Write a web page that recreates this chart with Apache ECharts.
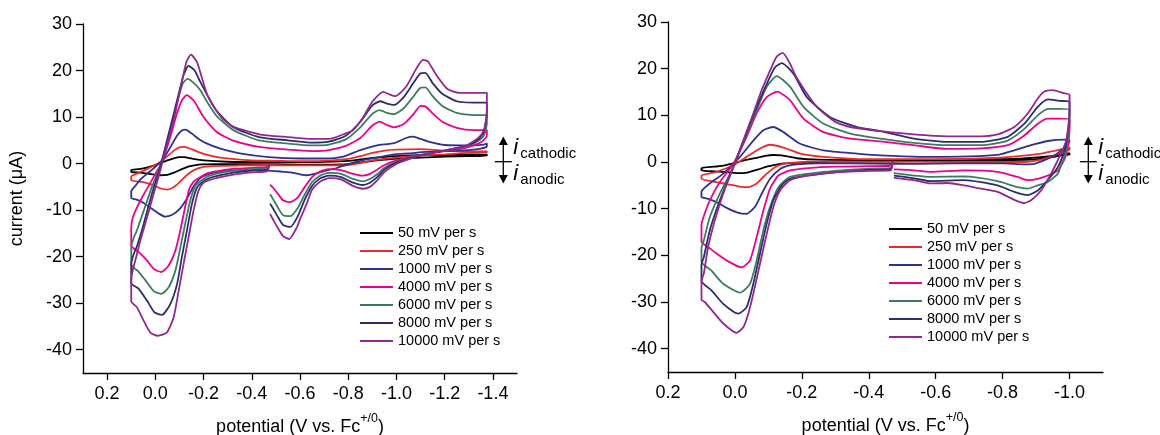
<!DOCTYPE html>
<html>
<head>
<meta charset="utf-8">
<script src="https://cdn.jsdelivr.net/npm/echarts@6/dist/echarts.min.js"></script>
<style>
  html, body { margin: 0; padding: 0; background: #fff; }
  #chart { width: 1160px; height: 435px; }
</style>
</head>
<body>
<div id="chart"></div>
<script>
// Scan-rate labels shared by both voltammogram panels
const scanRates = ['50 mV per s', '250 mV per s', '1000 mV per s', '4000 mV per s',
                   '6000 mV per s', '8000 mV per s', '10000 mV per s'];

// Tick values
const xTicksWide = [0.2, 0.0, -0.2, -0.4, -0.6, -0.8, -1.0, -1.2, -1.4];
const xTicksNarrow = [0.2, 0.0, -0.2, -0.4, -0.6, -0.8, -1.0];
const yTicks = [-40, -30, -20, -10, 0, 10, 20, 30];

// ---- Wide window (0.1 V to -1.375 V), [potential V, current uA], in scan order ----
const wide50 = [
  [-0.47,-0.1],[-0.35,-0.1],[-0.25,-0.1],[-0.18,-0.2],[-0.14,-0.6],[-0.11,-1.2],[-0.08,-1.9],[-0.05,-2.4],
  [-0.02,-2.5],[0.01,-2.3],[0.04,-2.1],[0.07,-1.9],[0.1,-1.8],
  [0.1,-1.4],[0.07,-1.2],[0.04,-0.9],[0.01,-0.5],[-0.02,0.1],[-0.05,0.7],[-0.08,1.2],[-0.1,1.4],[-0.12,1.4],
  [-0.15,1.1],[-0.2,0.7],[-0.3,0.4],[-0.45,0.3],[-0.6,0.3],[-0.7,0.4],[-0.8,0.6],[-0.85,0.9],[-0.9,1.2],
  [-1.0,1.6],[-1.1,1.8],[-1.2,1.8],[-1.3,1.9],[-1.375,1.9],
  [-1.375,1.7],[-1.3,1.6],[-1.2,1.5],[-1.1,1.3],[-1.0,1.1],[-0.9,0.6],[-0.85,0.2],[-0.8,-0.1],[-0.7,-0.2],
  [-0.6,-0.2],[-0.47,-0.1]
];
const wide250 = [
  [-0.47,-0.3],[-0.35,-0.4],[-0.25,-0.5],[-0.2,-0.7],[-0.16,-1.4],[-0.13,-2.5],[-0.1,-4.0],[-0.075,-5.1],
  [-0.05,-5.6],[-0.02,-5.3],[0.01,-4.6],[0.05,-4.0],[0.1,-3.6],
  [0.1,-2.8],[0.07,-2.0],[0.04,-1.3],[0.01,-0.5],[-0.02,0.3],[-0.05,1.6],[-0.08,2.9],[-0.1,3.5],[-0.12,3.6],
  [-0.15,3.1],[-0.2,2.1],[-0.27,1.3],[-0.4,0.7],[-0.5,0.6],[-0.6,0.5],[-0.7,0.6],[-0.8,1.0],[-0.85,1.6],
  [-0.9,2.3],[-0.95,2.8],[-1.0,3.0],[-1.1,3.1],[-1.2,2.8],[-1.3,2.6],[-1.375,2.6],
  [-1.375,2.4],[-1.3,2.3],[-1.2,2.0],[-1.1,1.7],[-1.0,1.3],[-0.9,0.7],[-0.85,0.1],[-0.8,-0.3],[-0.7,-0.4],
  [-0.6,-0.4],[-0.47,-0.3]
];
const wide1000 = [
  [-0.47,-1.5],[-0.4,-1.4],[-0.3,-1.5],[-0.24,-2.0],[-0.19,-3.0],[-0.16,-4.8],[-0.13,-7.6],[-0.1,-9.8],
  [-0.07,-11.0],[-0.04,-11.4],[-0.01,-10.6],[0.02,-9.5],[0.05,-8.4],[0.08,-7.7],[0.1,-7.4],
  [0.1,-6.0],[0.08,-4.6],[0.06,-3.3],[0.03,-2.0],[0.0,-0.7],[-0.03,0.8],[-0.06,3.3],[-0.09,6.0],[-0.11,7.1],
  [-0.125,7.3],[-0.15,6.5],[-0.18,5.3],[-0.21,4.4],[-0.27,3.2],[-0.35,2.2],[-0.47,1.4],[-0.6,1.1],[-0.7,1.1],
  [-0.78,1.5],[-0.85,2.9],[-0.92,3.9],[-0.99,4.4],[-1.04,5.5],[-1.07,5.8],[-1.1,5.3],[-1.14,4.6],[-1.2,4.0],
  [-1.3,3.9],[-1.36,4.1],[-1.375,4.3],
  [-1.375,3.7],[-1.35,3.2],[-1.3,2.9],[-1.2,2.7],[-1.12,2.5],[-1.05,2.2],[-0.99,2.0],[-0.93,1.4],[-0.85,0.6],
  [-0.8,-0.1],[-0.75,-1.0],[-0.7,-1.6],[-0.66,-2.2],[-0.63,-2.5],[-0.6,-2.3],[-0.56,-1.9],[-0.52,-1.7],[-0.47,-1.5]
];
const wide4000 = [
  [-0.472,-0.1],[-0.465,-0.7],[-0.4,-0.9],[-0.33,-1.1],[-0.27,-1.5],[-0.22,-2.0],[-0.19,-2.8],[-0.16,-3.8],
  [-0.14,-5.6],[-0.125,-9.0],[-0.105,-14.0],[-0.083,-18.7],[-0.055,-21.9],[-0.025,-23.3],[0.005,-22.7],
  [0.035,-20.8],[0.065,-19.2],[0.1,-17.6],
  [0.1,-14.0],[0.093,-11.5],[0.075,-9.3],[0.05,-6.8],[0.03,-5.0],[0.0,-2.2],[-0.028,0.3],[-0.06,5.4],
  [-0.09,10.8],[-0.11,13.6],[-0.13,14.7],[-0.16,13.5],[-0.2,10.0],[-0.255,6.8],[-0.32,5.0],[-0.43,3.6],
  [-0.55,3.0],[-0.65,2.7],[-0.72,2.9],[-0.79,3.8],[-0.85,5.5],[-0.9,8.2],[-0.93,9.0],[-0.96,8.3],[-0.99,7.8],
  [-1.03,8.5],[-1.07,10.6],[-1.1,12.4],[-1.12,12.3],[-1.15,10.8],[-1.19,9.0],[-1.25,7.7],[-1.32,7.2],[-1.375,7.2],
  [-1.375,6.2],[-1.37,5.5],[-1.35,4.6],[-1.32,3.9],[-1.28,3.3],[-1.2,2.7],[-1.14,2.2],[-1.07,1.6],[-1.0,0.7],
  [-0.95,-0.3],[-0.92,-1.3],[-0.89,-2.2],[-0.86,-2.6],[-0.82,-2.2],[-0.77,-1.4],[-0.72,-1.2],[-0.68,-1.8],
  [-0.65,-2.9],[-0.62,-5.0],[-0.59,-7.3],[-0.56,-8.3],[-0.53,-7.9],[-0.51,-6.6],[-0.49,-5.3],[-0.476,-4.5]
];
const wide6000 = [
  [-0.472,-0.2],[-0.465,-1.0],[-0.4,-1.2],[-0.33,-1.5],[-0.27,-2.0],[-0.22,-2.7],[-0.19,-3.7],[-0.166,-4.8],
  [-0.145,-7.9],[-0.124,-12.9],[-0.104,-18.0],[-0.083,-23.0],[-0.055,-26.6],[-0.025,-28.0],[0.007,-27.4],
  [0.041,-25.1],[0.07,-23.2],[0.1,-21.7],
  [0.1,-18.0],[0.09,-16.0],[0.076,-14.3],[0.048,-10.1],[0.014,-5.0],[-0.021,-0.4],[-0.048,4.3],[-0.076,10.0],
  [-0.097,14.4],[-0.115,17.3],[-0.134,18.2],[-0.16,17.3],[-0.186,15.8],[-0.22,12.8],[-0.255,10.2],[-0.324,7.2],
  [-0.43,5.0],[-0.55,4.3],[-0.65,3.9],[-0.72,4.1],[-0.79,5.2],[-0.85,7.8],[-0.9,10.7],[-0.93,11.5],[-0.96,10.9],
  [-0.99,10.6],[-1.03,11.9],[-1.07,14.4],[-1.1,16.3],[-1.12,16.4],[-1.15,14.5],[-1.19,12.4],[-1.25,10.9],
  [-1.32,10.4],[-1.375,10.4],
  [-1.375,8.7],[-1.37,7.2],[-1.36,5.8],[-1.33,4.6],[-1.28,3.6],[-1.2,2.8],[-1.14,2.2],[-1.07,1.5],[-1.0,0.4],
  [-0.95,-0.9],[-0.92,-2.3],[-0.89,-3.3],[-0.86,-3.8],[-0.82,-3.3],[-0.77,-2.2],[-0.72,-2.0],[-0.68,-2.7],
  [-0.65,-4.0],[-0.62,-6.6],[-0.59,-9.6],[-0.56,-11.3],[-0.53,-11.1],[-0.51,-9.6],[-0.49,-7.8],[-0.476,-6.6]
];
const wide8000 = [
  [-0.472,-0.3],[-0.465,-1.3],[-0.4,-1.5],[-0.33,-1.9],[-0.27,-2.5],[-0.22,-3.2],[-0.19,-4.2],[-0.172,-5.2],
  [-0.152,-8.6],[-0.131,-14.4],[-0.11,-20.1],[-0.09,-25.9],[-0.062,-30.2],[-0.028,-32.5],[0.003,-32.0],
  [0.034,-29.5],[0.069,-26.9],[0.1,-25.7],
  [0.1,-21.6],[0.09,-19.5],[0.076,-17.7],[0.048,-12.9],[0.014,-6.5],[-0.021,-0.7],[-0.048,4.9],[-0.076,10.6],
  [-0.097,15.0],[-0.117,19.0],[-0.138,21.0],[-0.163,20.0],[-0.186,17.6],[-0.22,14.3],[-0.255,11.3],[-0.324,7.8],
  [-0.43,5.7],[-0.55,5.0],[-0.65,4.5],[-0.72,4.7],[-0.79,6.0],[-0.85,9.0],[-0.9,12.5],[-0.932,13.4],[-0.96,12.9],
  [-0.99,12.6],[-1.03,14.3],[-1.07,17.3],[-1.1,19.4],[-1.12,19.5],[-1.15,17.3],[-1.19,15.0],[-1.25,13.4],
  [-1.32,13.1],[-1.375,13.1],
  [-1.375,10.5],[-1.37,8.8],[-1.36,6.5],[-1.33,4.8],[-1.28,3.7],[-1.2,2.8],[-1.14,2.2],[-1.07,1.4],[-1.0,0.2],
  [-0.95,-1.3],[-0.92,-2.9],[-0.89,-4.1],[-0.86,-4.6],[-0.82,-4.1],[-0.77,-2.9],[-0.72,-2.6],[-0.68,-3.3],
  [-0.65,-4.8],[-0.62,-7.7],[-0.59,-11.4],[-0.56,-13.6],[-0.53,-13.2],[-0.51,-11.6],[-0.49,-9.8],[-0.476,-8.6]
];
const wide10000 = [
  [-0.472,-0.4],[-0.465,-1.6],[-0.4,-1.9],[-0.33,-2.3],[-0.27,-2.9],[-0.22,-3.6],[-0.2,-4.1],[-0.179,-5.8],
  [-0.159,-10.0],[-0.138,-15.8],[-0.117,-21.6],[-0.097,-27.3],[-0.076,-33.0],[-0.048,-36.3],[-0.01,-37.0],
  [0.021,-36.3],[0.048,-33.8],[0.076,-30.9],[0.1,-29.6],
  [0.1,-25.0],[0.092,-22.5],[0.083,-20.8],[0.062,-16.5],[0.034,-11.5],[0.007,-6.5],[-0.021,-1.4],[-0.048,4.0],
  [-0.076,9.3],[-0.097,14.4],[-0.115,18.8],[-0.13,22.0],[-0.148,23.4],[-0.172,21.9],[-0.19,19.0],[-0.215,14.8],
  [-0.242,12.2],[-0.28,9.6],[-0.324,7.9],[-0.43,6.3],[-0.55,5.7],[-0.65,5.3],[-0.72,5.3],[-0.79,6.5],[-0.82,7.2],
  [-0.86,9.8],[-0.9,13.3],[-0.945,15.4],[-0.97,14.9],[-0.995,14.5],[-1.04,16.5],[-1.08,20.2],[-1.11,22.3],
  [-1.13,22.0],[-1.166,19.0],[-1.21,16.1],[-1.26,15.2],[-1.32,15.2],[-1.375,15.2],
  [-1.375,12.0],[-1.372,9.5],[-1.365,7.6],[-1.35,6.1],[-1.32,4.8],[-1.28,3.7],[-1.2,2.8],[-1.14,2.2],[-1.07,1.3],
  [-1.0,-0.1],[-0.95,-1.8],[-0.92,-3.6],[-0.89,-5.0],[-0.86,-5.4],[-0.82,-4.8],[-0.77,-3.4],[-0.72,-3.1],
  [-0.68,-4.0],[-0.65,-5.6],[-0.628,-8.6],[-0.6,-12.0],[-0.587,-13.7],[-0.555,-16.2],[-0.53,-15.6],
  [-0.518,-14.7],[-0.49,-12.2],[-0.476,-10.8]
];

// ---- Narrow window (0.1 V to -1.0 V) ----
const narrow50 = [
  [-0.47,0.1],[-0.35,0.1],[-0.25,0.0],[-0.18,-0.2],[-0.145,-0.3],[-0.12,-0.6],[-0.095,-1.0],[-0.07,-1.6],
  [-0.04,-2.2],[-0.015,-2.4],[0.02,-2.2],[0.06,-2.0],[0.1,-1.8],
  [0.1,-1.3],[0.06,-1.0],[0.035,-0.8],[0.0,-0.2],[-0.03,0.4],[-0.065,0.9],[-0.09,1.3],[-0.115,1.5],[-0.14,1.4],
  [-0.185,0.8],[-0.25,0.5],[-0.4,0.4],[-0.5,0.4],[-0.7,0.5],[-0.84,0.7],[-0.92,1.1],[-0.96,1.4],[-1.0,1.9],
  [-1.0,1.6],[-0.975,1.4],[-0.935,0.9],[-0.885,0.5],[-0.8,0.4],[-0.6,0.3],[-0.47,0.1]
];
const narrow250 = [
  [-0.47,0.1],[-0.35,0.1],[-0.25,0.1],[-0.165,-0.2],[-0.125,-0.9],[-0.095,-2.5],[-0.065,-4.6],[-0.04,-5.4],
  [-0.01,-5.2],[0.02,-4.8],[0.055,-4.3],[0.1,-3.6],
  [0.1,-2.9],[0.055,-2.1],[0.005,-0.7],[-0.035,1.1],[-0.075,2.9],[-0.105,3.7],[-0.145,3.1],[-0.195,1.8],
  [-0.265,1.1],[-0.4,0.6],[-0.6,0.6],[-0.75,0.8],[-0.84,1.2],[-0.915,1.8],[-0.955,2.4],[-1.0,3.1],
  [-1.0,2.7],[-0.985,2.4],[-0.955,1.4],[-0.915,0.5],[-0.865,0.0],[-0.7,0.0],[-0.47,0.1]
];
const narrow1000 = [
  [-0.47,-0.4],[-0.35,-0.3],[-0.25,-0.3],[-0.185,-0.5],[-0.16,-0.8],[-0.135,-1.5],[-0.105,-3.6],[-0.08,-6.8],
  [-0.06,-9.6],[-0.035,-11.1],[-0.01,-10.9],[0.02,-10.0],[0.055,-8.6],[0.08,-7.9],[0.1,-7.5],
  [0.1,-6.4],[0.075,-4.6],[0.035,-2.5],[-0.015,1.1],[-0.055,4.6],[-0.085,6.8],[-0.115,7.5],[-0.145,6.4],
  [-0.195,3.9],[-0.265,2.5],[-0.365,1.8],[-0.435,1.4],[-0.55,1.1],[-0.7,1.2],[-0.79,1.6],[-0.835,2.5],
  [-0.885,3.6],[-0.935,4.5],[-0.985,4.8],[-1.0,4.6],
  [-0.995,3.6],[-0.975,2.5],[-0.955,1.4],[-0.925,0.4],[-0.895,-0.4],[-0.865,-0.5],[-0.8,-0.3],[-0.65,-0.3],
  [-0.55,-0.4],[-0.47,-0.4]
];
const narrow4000 = [
  [-0.472,0.2],[-0.465,-0.8],[-0.4,-0.9],[-0.3,-1.0],[-0.22,-1.3],[-0.165,-1.8],[-0.13,-2.9],[-0.105,-5.7],
  [-0.085,-10.4],[-0.065,-16.1],[-0.045,-21.1],[-0.02,-22.6],[0.02,-21.3],[0.055,-19.6],[0.08,-18.2],[0.1,-17.1],
  [0.1,-13.5],[0.09,-11.0],[0.075,-8.2],[0.045,-4.3],[0.005,-0.4],[-0.035,5.4],[-0.065,10.4],[-0.095,13.9],
  [-0.127,15.1],[-0.165,13.2],[-0.205,9.3],[-0.265,6.4],[-0.345,5.0],[-0.435,4.4],[-0.535,3.6],[-0.635,2.8],
  [-0.735,2.9],[-0.815,3.6],[-0.865,5.7],[-0.905,8.2],[-0.935,9.3],[-0.97,9.3],[-1.0,9.1],
  [-1.0,7.0],[-0.998,5.0],[-0.993,2.5],[-0.985,0.6],[-0.965,-1.8],[-0.935,-2.9],[-0.905,-3.6],[-0.875,-3.9],
  [-0.845,-3.2],[-0.785,-2.1],[-0.685,-1.8],[-0.585,-2.1],[-0.535,-1.8],[-0.475,-1.6]
];
const narrow6000 = [
  [-0.472,0.1],[-0.465,-1.3],[-0.4,-1.4],[-0.265,-2.1],[-0.165,-3.2],[-0.13,-5.4],[-0.105,-9.6],[-0.085,-14.6],
  [-0.065,-21.1],[-0.045,-26.1],[-0.015,-28.0],[0.035,-26.1],[0.07,-23.3],[0.1,-21.4],
  [0.1,-18.5],[0.093,-16.8],[0.075,-11.8],[0.045,-6.8],[0.005,-1.1],[-0.03,5.0],[-0.065,11.1],[-0.095,16.1],
  [-0.125,18.4],[-0.165,16.1],[-0.205,11.8],[-0.265,8.2],[-0.345,6.1],[-0.435,5.0],[-0.535,4.1],[-0.635,3.6],
  [-0.735,3.6],[-0.815,4.6],[-0.865,7.1],[-0.905,10.0],[-0.935,11.4],[-0.97,11.4],[-1.0,11.2],
  [-1.0,9.0],[-0.998,6.5],[-0.993,4.0],[-0.988,1.8],[-0.975,-0.6],[-0.965,-2.5],[-0.935,-4.3],[-0.905,-5.0],
  [-0.875,-5.7],[-0.845,-5.4],[-0.785,-4.1],[-0.685,-3.1],[-0.585,-3.2],[-0.535,-2.9],[-0.475,-2.4]
];
const narrow8000 = [
  [-0.472,0.2],[-0.465,-1.6],[-0.4,-1.7],[-0.265,-2.5],[-0.165,-3.6],[-0.14,-5.0],[-0.115,-8.2],[-0.095,-13.2],
  [-0.075,-19.6],[-0.055,-26.1],[-0.035,-31.1],[-0.01,-32.5],[0.035,-30.4],[0.07,-27.5],[0.1,-25.5],
  [0.1,-22.0],[0.093,-20.4],[0.075,-14.6],[0.045,-8.2],[0.005,-1.1],[-0.03,5.4],[-0.065,11.8],[-0.1,17.5],
  [-0.12,20.3],[-0.14,21.2],[-0.175,18.9],[-0.215,13.9],[-0.285,9.6],[-0.365,7.5],[-0.435,6.6],[-0.535,5.0],
  [-0.635,4.3],[-0.735,4.3],[-0.815,5.4],[-0.865,8.2],[-0.905,11.8],[-0.935,13.4],[-0.97,13.1],[-1.0,12.9],
  [-1.0,11.0],[-0.998,8.0],[-0.993,5.5],[-0.988,3.2],[-0.978,1.0],[-0.965,-1.1],[-0.935,-3.9],[-0.905,-6.1],
  [-0.875,-7.1],[-0.835,-6.4],[-0.785,-5.0],[-0.685,-3.9],[-0.585,-4.1],[-0.535,-3.5],[-0.475,-2.9]
];
const narrow10000 = [
  [-0.472,0.3],[-0.465,-1.8],[-0.4,-1.9],[-0.315,-2.1],[-0.215,-2.9],[-0.165,-3.9],[-0.135,-6.1],[-0.115,-9.6],
  [-0.095,-15.4],[-0.075,-21.8],[-0.055,-28.2],[-0.04,-32.5],[-0.025,-35.4],[-0.005,-36.6],[0.035,-34.6],
  [0.065,-32.1],[0.09,-30.0],[0.1,-29.5],
  [0.1,-25.5],[0.093,-23.9],[0.08,-18.2],[0.06,-12.5],[0.035,-6.8],[0.005,-1.1],[-0.025,4.6],[-0.055,10.4],
  [-0.08,15.4],[-0.105,19.6],[-0.125,22.6],[-0.143,23.4],[-0.165,21.0],[-0.185,18.0],[-0.245,11.8],[-0.3,8.6],
  [-0.345,7.5],[-0.435,6.6],[-0.535,5.9],[-0.635,5.5],[-0.735,5.5],[-0.785,5.9],[-0.835,7.5],[-0.875,10.4],
  [-0.905,13.6],[-0.925,15.1],[-0.95,15.4],[-0.98,14.8],[-1.0,14.4],
  [-1.0,11.0],[-0.996,7.5],[-0.99,4.6],[-0.978,2.3],[-0.965,0.4],[-0.945,-2.5],[-0.915,-6.1],[-0.885,-8.2],
  [-0.865,-8.8],[-0.835,-8.1],[-0.785,-6.4],[-0.735,-5.7],[-0.685,-5.0],[-0.635,-4.5],[-0.585,-4.6],
  [-0.535,-3.9],[-0.475,-3.4]
];

const wideCurves = [wide50, wide250, wide1000, wide4000, wide6000, wide8000, wide10000];
const narrowCurves = [narrow50, narrow250, narrow1000, narrow4000, narrow6000, narrow8000, narrow10000];

// Trace colours, one per scan rate
const traceColors = ['#000000', '#ee2a2a', '#2e3192', '#ec008c', '#3e7b5c', '#2b2e6b', '#92278f'];

const FONT = '"Liberation Sans", Arial, Helvetica, sans-serif';

function xAxisFor(gridIndex, min, max, ticks) {
  return {
    gridIndex, type: 'value', min, max, inverse: true,
    axisLine: { show: true, onZero: false, lineStyle: { color: '#000', width: 1.3 } },
    axisTick: { show: true, length: 7, inside: false, customValues: ticks, lineStyle: { color: '#000', width: 1.3 } },
    axisLabel: { customValues: ticks, margin: 12, fontSize: 18, color: '#000', fontFamily: FONT,
                 formatter: v => (Math.abs(v) < 1e-9 ? 0 : v).toFixed(1) },
    splitLine: { show: false },
    name: '{t|potential (V vs. Fc}{s|+/0}{t|)}',
    nameLocation: 'middle', nameGap: 39,
    nameTextStyle: {
      fontFamily: FONT, color: '#000',
      rich: {
        t: { fontSize: 18, lineHeight: 24, verticalAlign: 'bottom', fontFamily: FONT, color: '#000' },
        s: { fontSize: 12.5, lineHeight: 13, verticalAlign: 'top', fontFamily: FONT, color: '#000' }
      }
    }
  };
}

function yAxisFor(gridIndex, withName) {
  return {
    gridIndex, type: 'value', min: -45, max: 30,
    axisLine: { show: true, onZero: false, lineStyle: { color: '#000', width: 1.3 } },
    axisTick: { show: true, length: 7, customValues: yTicks, lineStyle: { color: '#000', width: 1.3 } },
    axisLabel: { customValues: yTicks, margin: 11, fontSize: 18, color: '#000', fontFamily: FONT },
    splitLine: { show: false },
    name: withName ? 'current (\u03bcA)' : '',
    nameLocation: 'middle', nameGap: 57, nameRotate: 90,
    nameTextStyle: { fontSize: 18, color: '#000', fontFamily: FONT }
  };
}

const series = [];
wideCurves.forEach((d, k) => series.push({
  name: scanRates[k], type: 'line', xAxisIndex: 0, yAxisIndex: 0, data: d,
  showSymbol: false, symbol: 'none', smooth: 0.2, clip: true,
  lineStyle: { color: traceColors[k], width: 1.8 }, itemStyle: { color: traceColors[k] }
}));
narrowCurves.forEach((d, k) => series.push({
  name: scanRates[k], type: 'line', xAxisIndex: 1, yAxisIndex: 1, data: d,
  showSymbol: false, symbol: 'none', smooth: 0.2, clip: true,
  lineStyle: { color: traceColors[k], width: 1.8 }, itemStyle: { color: traceColors[k] }
}));

function legendAt(left, top) {
  return {
    left, top, padding: 0, orient: 'vertical', icon: 'rect', itemWidth: 33, itemHeight: 2, itemGap: 2,
    data: scanRates, selectedMode: false,
    textStyle: { fontSize: 14.5, lineHeight: 16, color: '#000', fontFamily: FONT }
  };
}

// Current-direction marker: double arrow with i_cathodic / i_anodic
function currentMarker(x) {
  const ink = { stroke: '#000', lineWidth: 1.3 };
  return [
    { type: 'line', shape: { x1: x, y1: 142, x2: x, y2: 178 }, style: ink },
    { type: 'line', shape: { x1: x - 8.5, y1: 161.7, x2: x + 8.5, y2: 161.7 }, style: ink },
    { type: 'polygon', shape: { points: [[x, 136.5], [x - 4.5, 145], [x + 4.5, 145]] }, style: { fill: '#000' } },
    { type: 'polygon', shape: { points: [[x, 183.5], [x - 4.5, 175], [x + 4.5, 175]] }, style: { fill: '#000' } },
    { type: 'text', x: x + 10, y: 148, style: { text: 'i', font: 'italic 22px ' + FONT, fill: '#000', verticalAlign: 'middle' } },
    { type: 'text', x: x + 17, y: 154, style: { text: 'cathodic', font: '15px ' + FONT, fill: '#000', verticalAlign: 'middle' } },
    { type: 'text', x: x + 10, y: 174, style: { text: 'i', font: 'italic 22px ' + FONT, fill: '#000', verticalAlign: 'middle' } },
    { type: 'text', x: x + 17, y: 180, style: { text: 'anodic', font: '15px ' + FONT, fill: '#000', verticalAlign: 'middle' } }
  ];
}

const chart = echarts.init(document.getElementById('chart'), null, { renderer: 'canvas' });
chart.setOption({
  animation: false,
  backgroundColor: '#fff',
  textStyle: { fontFamily: FONT },
  grid: [
    { left: 83, top: 24, width: 434, height: 349, containLabel: false, outerBoundsMode: 'none' },
    { left: 668, top: 22, width: 435, height: 350, containLabel: false, outerBoundsMode: 'none' }
  ],
  xAxis: [xAxisFor(0, -1.5, 0.3, xTicksWide), xAxisFor(1, -1.1, 0.2, xTicksNarrow)],
  yAxis: [yAxisFor(0, true), yAxisFor(1, false)],
  legend: [legendAt(360, 225), legendAt(889, 221)],
  graphic: [...currentMarker(503.3), ...currentMarker(1088.3)],
  series
});
</script>
</body>
</html>
